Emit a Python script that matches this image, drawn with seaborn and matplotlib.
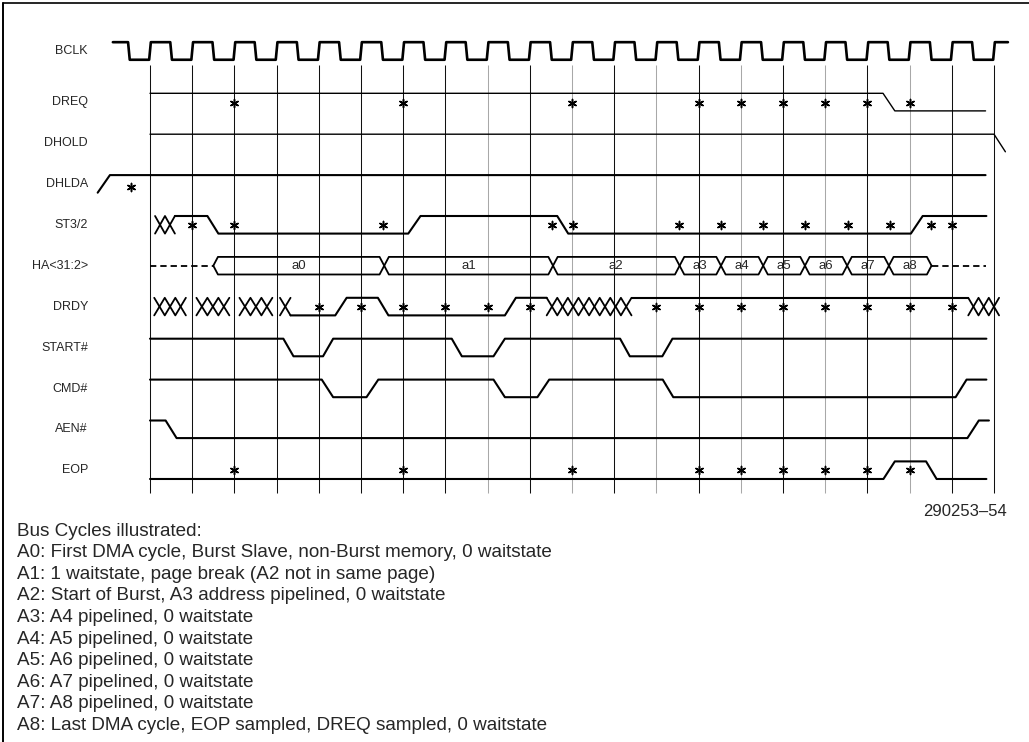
import numpy as np
import pandas as pd
import seaborn as sns
import matplotlib
matplotlib.use('Agg')
import matplotlib.pyplot as plt
from matplotlib.lines import Line2D

sns.set_style('white')
plt.rcParams['font.family'] = ['Liberation Sans', 'DejaVu Sans']

# ---- data (time in BCLK periods) ----
signal_names = ['BCLK', 'DREQ', 'DHOLD', 'DHLDA', 'ST3/2', 'HA<31:2>',
                'DRDY', 'START#', 'CMD#', 'AEN#', 'EOP']

grid_t = [0, 1, 2, 3, 4, 5, 6, 7, 8, 9, 10, 11, 12, 13, 14, 15, 16, 17, 18, 19, 20]
grid_light = [8, 10, 12, 14, 16, 18]

bclk_start, bclk_end = -0.88, 20.33
bclk_rise = [0, 1, 2, 3, 4, 5, 6, 7, 8, 9, 10, 11, 12, 13, 14, 15, 16, 17, 18, 19, 20]
bclk_fall = [-0.5, 0.5, 1.5, 2.5, 3.5, 4.5, 5.5, 6.5, 7.5, 8.5, 9.5, 10.5,
             11.5, 12.5, 13.5, 14.5, 15.5, 16.5, 17.5, 18.5, 19.5]

dreq_t = [0, 17.37, 17.65, 19.8]
dreq_l = [1, 1, 0, 0]
dhold_t = [0, 20, 20.27]
dhold_l = [1, 1, 0]
dhlda_t = [-1.24, -0.95, 19.8]
dhlda_l = [0, 1, 1]
st32_t = [0.59, 1.36, 1.62, 6.12, 6.41, 9.65, 9.91, 18.03, 18.31, 19.82]
st32_l = [1, 1, 0, 0, 1, 1, 0, 0, 1, 1]
st32_x = [(0.12, 0.59, 2)]
drdy_t = [3.33, 4.39, 4.66, 5.4, 5.65, 8.41, 8.67, 9.4]
drdy_l = [0, 0, 1, 1, 0, 0, 1, 1]
drdy_t2 = [11.41, 19.39]
drdy_l2 = [1, 1]
drdy_x = [(0.1, 0.85, 3), (1.1, 1.88, 3), (2.12, 2.9, 3), (3.08, 3.33, 1),
          (9.4, 11.41, 8), (19.39, 20.12, 3)]
start_t = [0, 3.16, 3.4, 4.1, 4.34, 7.15, 7.39, 8.14, 8.41, 11.14, 11.37, 12.14, 12.38, 19.82]
start_l = [1, 1, 0, 0, 1, 1, 0, 0, 1, 1, 0, 0, 1, 1]
cmd_t = [0, 4.07, 4.34, 5.13, 5.41, 8.14, 8.41, 9.18, 9.46, 12.15, 12.4, 19.09, 19.35, 19.82]
cmd_l = [1, 1, 0, 0, 1, 1, 0, 0, 1, 1, 0, 0, 1, 1]
aen_t = [0, 0.37, 0.63, 19.37, 19.64, 19.88]
aen_l = [1, 1, 0, 0, 1, 1]
eop_t = [0, 17.38, 17.65, 18.39, 18.64, 19.82]
eop_l = [0, 0, 1, 1, 0, 0]

ha_bounds = [1.5, 5.55, 9.55, 12.55, 13.53, 14.53, 15.52, 16.52, 17.51, 18.52]
ha_labels = ['a0', 'a1', 'a2', 'a3', 'a4', 'a5', 'a6', 'a7', 'a8']
ha_float = [(0, 1.5), (18.52, 19.82)]

dreq_stars = [2, 6, 10, 13, 14, 15, 16, 17, 18]
dhlda_stars = [-0.45]
st32_stars = [1, 2, 5.53, 9.52, 10.02, 12.53, 13.53, 14.53, 15.53, 16.53, 17.53, 18.5, 19]
drdy_stars = [4, 5, 6, 7, 8, 9, 12, 13, 14, 15, 16, 17, 18, 19]
eop_stars = [2, 6, 10, 13, 14, 15, 16, 17, 18]

notes = ['Bus Cycles illustrated:',
         'A0: First DMA cycle, Burst Slave, non-Burst memory, 0 waitstate',
         'A1: 1 waitstate, page break (A2 not in same page)',
         'A2: Start of Burst, A3 address pipelined, 0 waitstate',
         'A3: A4 pipelined, 0 waitstate',
         'A4: A5 pipelined, 0 waitstate',
         'A5: A6 pipelined, 0 waitstate',
         'A6: A7 pipelined, 0 waitstate',
         'A7: A8 pipelined, 0 waitstate',
         'A8: Last DMA cycle, EOP sampled, DREQ sampled, 0 waitstate']
fig_code = '290253\u201354'

# ---- layout ----
W, H = 1029, 742
X0_PX, PX_PER_T = 150, 42.2          # t=0 grid line, pixels per clock
Y1_PX, PX_PER_ROW = 93.3, 40.9       # high level of row 1, pixels per row
rows = [-0.25, 1, 2, 3, 4, 5, 6, 7, 8, 9, 10]
row = dict(zip(signal_names, rows))
SWING = 0.43
EDGE = 0.02

fig = plt.figure(figsize=(W / 100, H / 100), dpi=100)
ax = fig.add_axes([0, 0, 1, 1])

segs = []


def add(name, ts, ys, width=1.5):
    segs.append(pd.DataFrame({'t': ts, 'y': ys, 'seg': len(segs), 'lw': width}))


def level_y(name, levels):
    return row[name] + SWING * (1 - np.asarray(levels, dtype=float))


# clock
edges = sorted([(e, 'r') for e in bclk_rise] + [(e, 'f') for e in bclk_fall])
ct, cl = [bclk_start], [1]
for e, kind in edges:
    if kind == 'f':
        ct += [e - EDGE, e + EDGE]; cl += [1, 0]
    else:
        ct += [e - EDGE, e + EDGE]; cl += [0, 1]
ct.append(bclk_end); cl.append(1)
add('BCLK', ct, level_y('BCLK', cl), 1.9)

add('DREQ', dreq_t, level_y('DREQ', dreq_l), 1.0)
add('DHOLD', dhold_t, level_y('DHOLD', dhold_l), 1.0)
add('DHLDA', dhlda_t, level_y('DHLDA', dhlda_l))
add('ST3/2', st32_t, level_y('ST3/2', st32_l))
add('DRDY', drdy_t, level_y('DRDY', drdy_l))
add('DRDY', drdy_t2, level_y('DRDY', drdy_l2))
add('START#', start_t, level_y('START#', start_l))
add('CMD#', cmd_t, level_y('CMD#', cmd_l))
add('AEN#', aen_t, level_y('AEN#', aen_l))
add('EOP', eop_t, level_y('EOP', eop_l))

# undefined (crossing) regions
for name, regions in [('ST3/2', st32_x), ('DRDY', drdy_x)]:
    for t0, t1, n in regions:
        ts = np.linspace(t0, t1, n + 1)
        a = [(i + 1) % 2 for i in range(n + 1)]
        b = [i % 2 for i in range(n + 1)]
        add(name, ts, level_y(name, a), 1.3)
        add(name, ts, level_y(name, b), 1.3)

# address bus
w = 0.11
top, bot = row['HA<31:2>'], row['HA<31:2>'] + SWING
mid = (top + bot) / 2
pa_t, pa_y = [ha_bounds[0], ha_bounds[0] + w], [mid, top]
pb_t, pb_y = [ha_bounds[0], ha_bounds[0] + w], [mid, bot]
cur_a, cur_b = top, bot
for b in ha_bounds[1:-1]:
    pa_t += [b - w, b + w]; pa_y += [cur_a, cur_b]
    pb_t += [b - w, b + w]; pb_y += [cur_b, cur_a]
    cur_a, cur_b = cur_b, cur_a
pa_t += [ha_bounds[-1] - w, ha_bounds[-1]]; pa_y += [cur_a, mid]
pb_t += [ha_bounds[-1] - w, ha_bounds[-1]]; pb_y += [cur_b, mid]
add('HA<31:2>', pa_t, pa_y, 1.3)
add('HA<31:2>', pb_t, pb_y, 1.3)

df = pd.concat(segs, ignore_index=True)

# grid lines
ygrid_top = 1 + (65 - Y1_PX) / PX_PER_ROW
ygrid_bot = 1 + (493 - Y1_PX) / PX_PER_ROW
ax.vlines(grid_t, ygrid_top, ygrid_bot,
          colors=['#a8a8a8' if k in grid_light else '#111111' for k in grid_t],
          linewidth=0.75, zorder=1)

for width, part in df.groupby('lw'):
    sns.lineplot(data=part, x='t', y='y', units='seg', estimator=None, sort=False,
                 color='black', linewidth=width, legend=False, ax=ax, zorder=3)

for t0, t1 in ha_float:
    ax.plot([t0, t1], [mid, mid], color='black', linewidth=1.3,
            linestyle=(0, (3.5, 2.2)), zorder=3)

for b0, b1, lab in zip(ha_bounds[:-1], ha_bounds[1:], ha_labels):
    ax.text((b0 + b1) / 2, mid, lab, ha='center', va='center', fontsize=9.5)

stars = pd.concat([
    pd.DataFrame({'t': dreq_stars, 'y': row['DREQ'] + 0.24}),
    pd.DataFrame({'t': dhlda_stars, 'y': row['DHLDA'] + 0.29}),
    pd.DataFrame({'t': st32_stars, 'y': row['ST3/2'] + 0.23}),
    pd.DataFrame({'t': drdy_stars, 'y': row['DRDY'] + 0.22}),
    pd.DataFrame({'t': eop_stars, 'y': row['EOP'] + 0.2}),
], ignore_index=True)
sns.scatterplot(data=stars, x='t', y='y', marker=(6, 2, 0), s=34, color='black',
                linewidth=1.1, ax=ax, zorder=4, legend=False)

label_t = (88 - X0_PX) / PX_PER_T
for name in signal_names:
    ax.text(label_t, row[name] + 0.22, name, ha='right', va='center', fontsize=9)

ax.set_xlim(-X0_PX / PX_PER_T, (W - X0_PX) / PX_PER_T)
ax.set_ylim(1 + (H - Y1_PX) / PX_PER_ROW, 1 - Y1_PX / PX_PER_ROW)
ax.axis('off')

# figure code and notes
fig.text(1007 / W, 1 - 511.7 / H, fig_code, ha='right', va='center', fontsize=12)
for i, line in enumerate(notes):
    fig.text(17 / W, 1 - (531 + 21.6 * i) / H, line, ha='left', va='center', fontsize=13.6)

# frame
fig.add_artist(Line2D([3 / W, 1], [1 - 3 / H, 1 - 3 / H], color='black', linewidth=1.2))
fig.add_artist(Line2D([3 / W, 3 / W], [0, 1 - 3 / H], color='black', linewidth=1.4))

fig.savefig('out.png', dpi=100)
